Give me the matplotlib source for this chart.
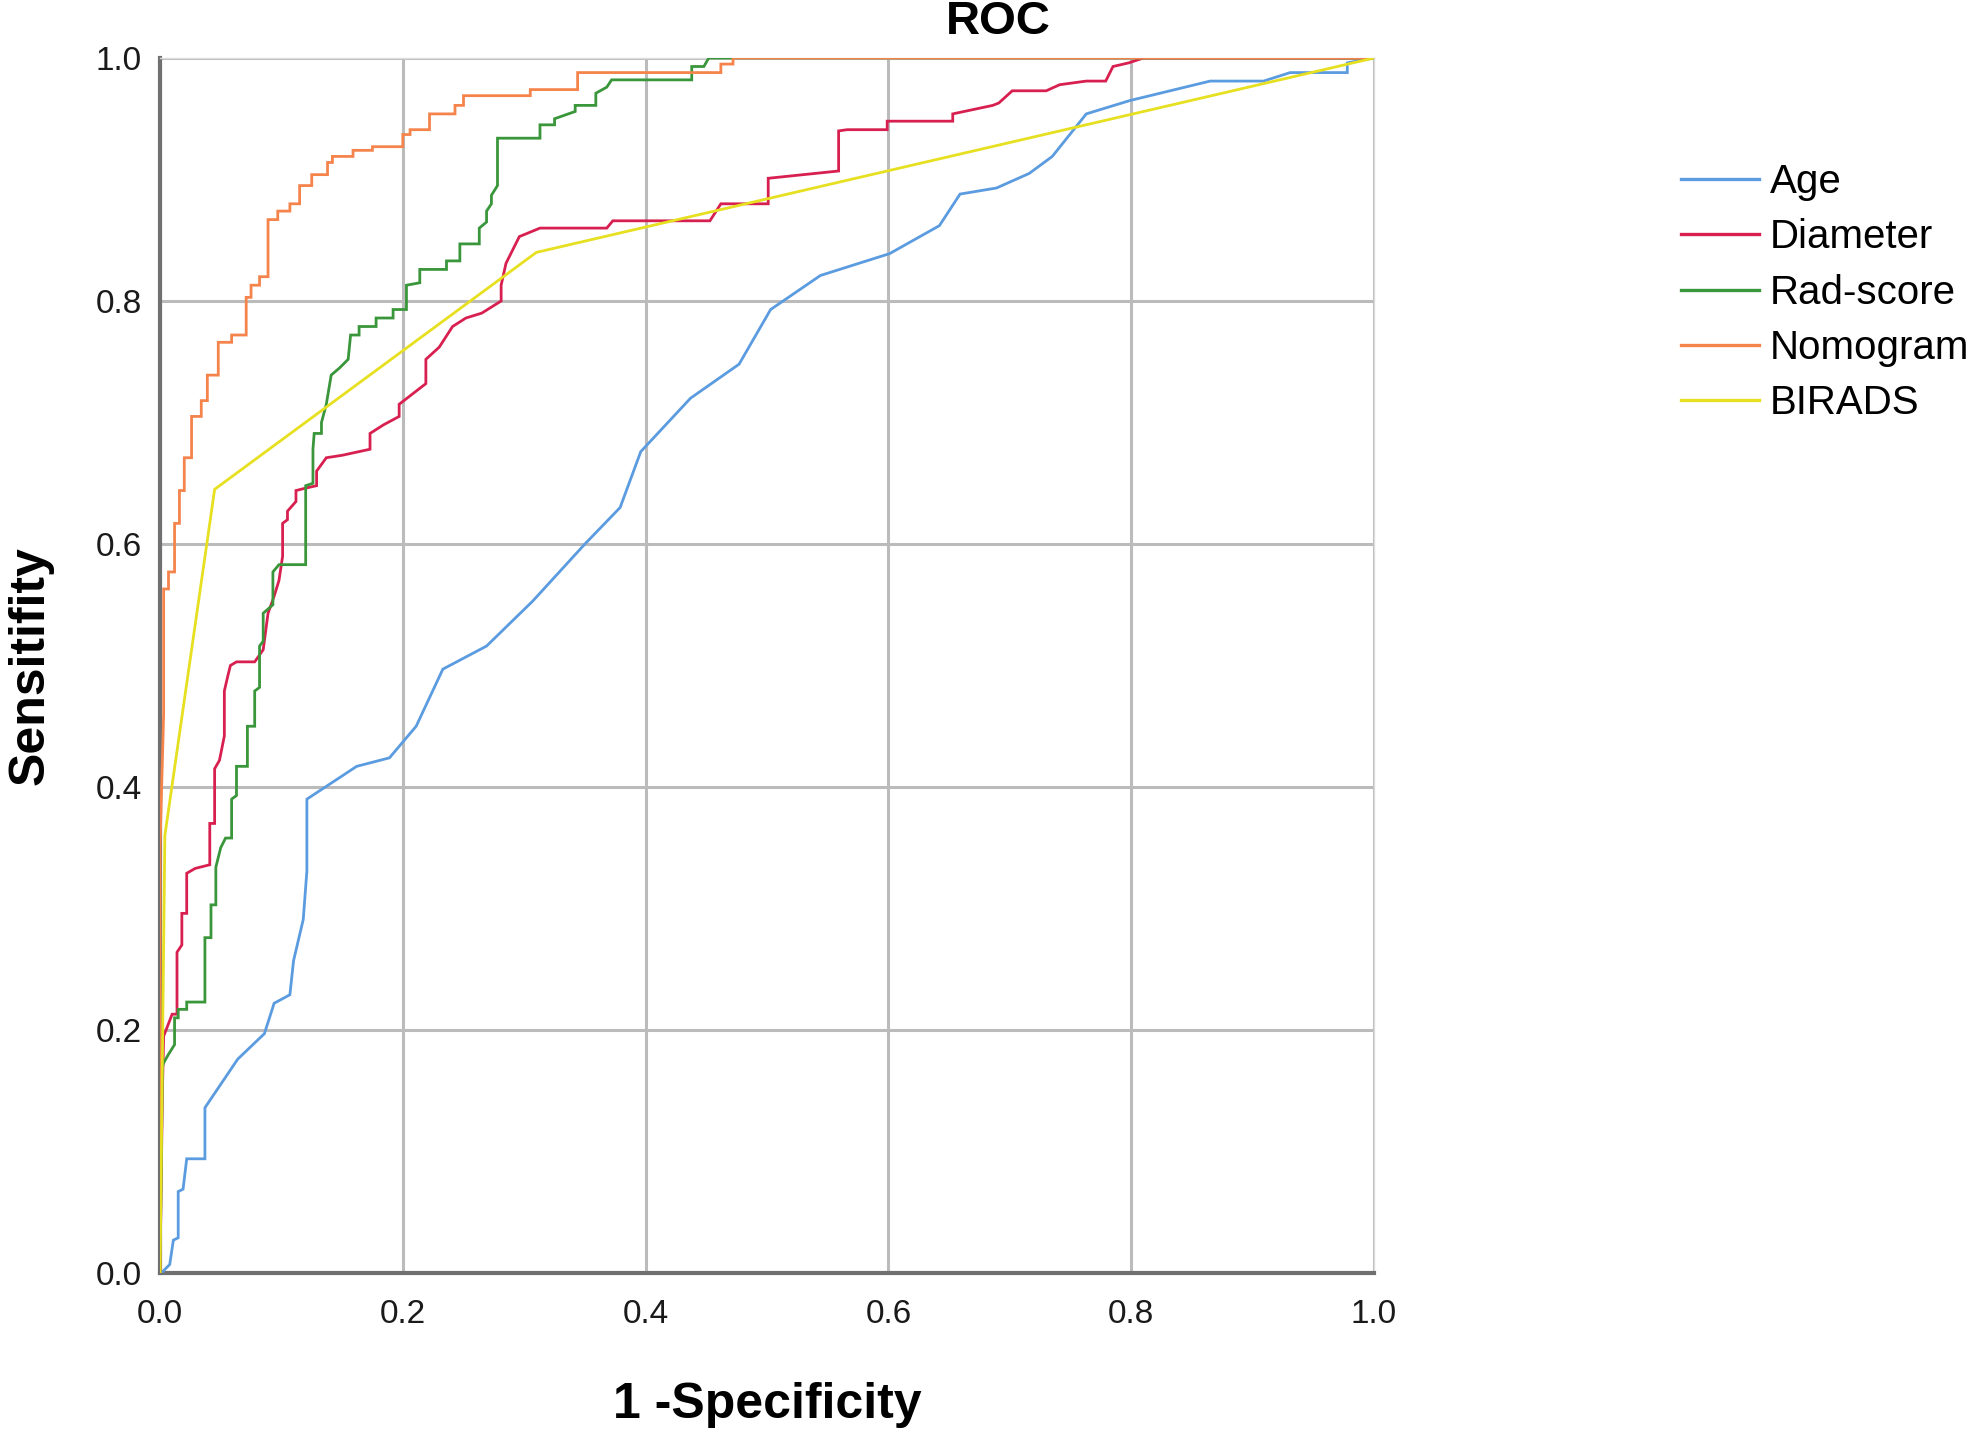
import matplotlib
matplotlib.use("Agg")
import matplotlib.pyplot as plt

plt.rcParams['font.family'] = ['Liberation Sans', 'DejaVu Sans']

# ---------------- data ----------------
series_names = ["Age", "Diameter", "Rad-score", "Nomogram", "BIRADS"]

age_fpr = [0, 0.001, 0.008, 0.011, 0.015, 0.015, 0.019, 0.022, 0.037, 0.037, 0.064,
           0.086, 0.094, 0.107, 0.110, 0.118, 0.121, 0.121, 0.162, 0.189, 0.211,
           0.233, 0.269, 0.307, 0.350, 0.379, 0.396, 0.437, 0.477, 0.503, 0.544,
           0.601, 0.642, 0.659, 0.689, 0.716, 0.735, 0.763, 0.799, 0.865, 0.909,
           0.931, 0.978, 0.978, 1.0]
age_tpr = [0, 0.0, 0.007, 0.027, 0.029, 0.067, 0.069, 0.094, 0.094, 0.136, 0.176,
           0.197, 0.222, 0.229, 0.257, 0.291, 0.331, 0.390, 0.417, 0.424, 0.450,
           0.497, 0.516, 0.553, 0.600, 0.630, 0.676, 0.720, 0.748, 0.793, 0.821,
           0.839, 0.862, 0.888, 0.893, 0.905, 0.919, 0.954, 0.965, 0.981, 0.981,
           0.988, 0.988, 0.996, 1.0]

diameter_fpr = [0, 0.002, 0.003, 0.005, 0.010, 0.014, 0.014, 0.018, 0.018, 0.022,
                0.022, 0.029, 0.041, 0.041, 0.045, 0.045, 0.049, 0.053, 0.053, 0.056,
                0.058, 0.063, 0.078, 0.085, 0.089, 0.094, 0.098, 0.101, 0.101, 0.105,
                0.105, 0.112, 0.112, 0.120, 0.129, 0.129, 0.137, 0.150, 0.173, 0.173,
                0.184, 0.197, 0.197, 0.219, 0.219, 0.230, 0.241, 0.252, 0.265, 0.281,
                0.281, 0.285, 0.296, 0.313, 0.368, 0.373, 0.453, 0.462, 0.501, 0.501,
                0.559, 0.559, 0.566, 0.599, 0.599, 0.653, 0.653, 0.686, 0.691, 0.702,
                0.730, 0.741, 0.763, 0.779, 0.785, 0.798, 0.810, 1.0]
diameter_tpr = [0, 0.150, 0.195, 0.200, 0.213, 0.213, 0.264, 0.270, 0.296, 0.296,
                0.329, 0.333, 0.336, 0.370, 0.370, 0.415, 0.422, 0.442, 0.479, 0.492,
                0.500, 0.503, 0.503, 0.513, 0.543, 0.557, 0.570, 0.590, 0.617, 0.620,
                0.627, 0.635, 0.644, 0.646, 0.648, 0.660, 0.671, 0.673, 0.678, 0.691,
                0.698, 0.705, 0.715, 0.732, 0.752, 0.762, 0.779, 0.786, 0.790, 0.800,
                0.813, 0.831, 0.853, 0.860, 0.860, 0.866, 0.866, 0.880, 0.880, 0.901,
                0.907, 0.940, 0.941, 0.941, 0.948, 0.948, 0.954, 0.961, 0.963, 0.973,
                0.973, 0.978, 0.981, 0.981, 0.993, 0.996, 1.0, 1.0]

radscore_fpr = [0, 0.002, 0.003, 0.007, 0.012, 0.012, 0.015, 0.015, 0.022, 0.022,
                0.037, 0.037, 0.042, 0.042, 0.046, 0.046, 0.050, 0.054, 0.059, 0.059,
                0.063, 0.063, 0.072, 0.072, 0.078, 0.078, 0.082, 0.082, 0.085, 0.085,
                0.093, 0.093, 0.098, 0.120, 0.120, 0.126, 0.126, 0.127, 0.133, 0.133,
                0.137, 0.141, 0.148, 0.155, 0.157, 0.164, 0.164, 0.178, 0.178, 0.192,
                0.192, 0.203, 0.203, 0.214, 0.214, 0.236, 0.236, 0.247, 0.247, 0.263,
                0.263, 0.269, 0.269, 0.273, 0.273, 0.278, 0.278, 0.313, 0.313, 0.325,
                0.325, 0.342, 0.342, 0.359, 0.359, 0.368, 0.372, 0.438, 0.438, 0.448,
                0.452, 1.0]
radscore_tpr = [0, 0.170, 0.173, 0.180, 0.188, 0.210, 0.210, 0.217, 0.217, 0.223,
                0.223, 0.276, 0.276, 0.303, 0.303, 0.334, 0.350, 0.358, 0.358, 0.390,
                0.393, 0.417, 0.417, 0.450, 0.450, 0.479, 0.482, 0.516, 0.520, 0.543,
                0.550, 0.577, 0.583, 0.583, 0.648, 0.650, 0.678, 0.691, 0.691, 0.700,
                0.715, 0.739, 0.745, 0.752, 0.772, 0.772, 0.779, 0.779, 0.786, 0.786,
                0.793, 0.793, 0.813, 0.815, 0.826, 0.826, 0.833, 0.833, 0.847, 0.847,
                0.860, 0.865, 0.874, 0.880, 0.887, 0.895, 0.934, 0.934, 0.945, 0.945,
                0.950, 0.956, 0.961, 0.961, 0.971, 0.976, 0.982, 0.982, 0.993, 0.993,
                1.0, 1.0]

nomogram_fpr = [0, 0, 0.003, 0.003, 0.007, 0.007, 0.012, 0.012, 0.016, 0.016,
                0.020, 0.020, 0.026, 0.026, 0.034, 0.034, 0.039, 0.039, 0.048, 0.048,
                0.059, 0.059, 0.071, 0.071, 0.075, 0.075, 0.082, 0.082, 0.089, 0.089,
                0.097, 0.097, 0.107, 0.107, 0.115, 0.115, 0.125, 0.125, 0.138, 0.138,
                0.142, 0.142, 0.159, 0.159, 0.175, 0.175, 0.200, 0.200, 0.206, 0.206,
                0.222, 0.222, 0.243, 0.243, 0.250, 0.250, 0.305, 0.305, 0.344, 0.344,
                0.462, 0.462, 0.472, 0.472, 1.0]
nomogram_tpr = [0, 0.350, 0.460, 0.563, 0.563, 0.577, 0.577, 0.617, 0.617, 0.644,
                0.644, 0.671, 0.671, 0.705, 0.705, 0.718, 0.718, 0.739, 0.739, 0.766,
                0.766, 0.772, 0.772, 0.803, 0.803, 0.813, 0.813, 0.820, 0.820, 0.867,
                0.867, 0.874, 0.874, 0.880, 0.880, 0.895, 0.895, 0.904, 0.904, 0.914,
                0.914, 0.919, 0.919, 0.924, 0.924, 0.927, 0.927, 0.937, 0.937, 0.941,
                0.941, 0.954, 0.954, 0.961, 0.961, 0.969, 0.969, 0.974, 0.974, 0.988,
                0.988, 0.995, 0.995, 1.0, 1.0]

birads_fpr = [0, 0.004, 0.045, 0.310, 1.0]
birads_tpr = [0, 0.360, 0.645, 0.840, 1.0]

series_fpr = [age_fpr, diameter_fpr, radscore_fpr, nomogram_fpr, birads_fpr]
series_tpr = [age_tpr, diameter_tpr, radscore_tpr, nomogram_tpr, birads_tpr]
series_colors = ["#5B9BDF", "#D82050", "#3A963A", "#F5844C", "#E6E020"]

ticks = [0.0, 0.2, 0.4, 0.6, 0.8, 1.0]
tick_labels = ["0.0", "0.2", "0.4", "0.6", "0.8", "1.0"]

# ---------------- figure ----------------
W, H = 1969, 1433
fig = plt.figure(figsize=(W / 100, H / 100), dpi=100)
ax = fig.add_axes([160 / W, 1 - 1273 / H, (1374 - 160) / W, (1273 - 58) / H])

for fx, ty, name, col in zip(series_fpr, series_tpr, series_names, series_colors):
    ax.plot(fx, ty, color=col, lw=2.0, label=name, solid_joinstyle='miter', zorder=3)

ax.set_xlim(0, 1)
ax.set_ylim(0, 1)
ax.set_xticks(ticks)
ax.set_yticks(ticks)
ax.set_xticklabels(tick_labels)
ax.set_yticklabels(tick_labels)
ax.tick_params(axis='both', length=0, labelsize=24, colors='#1a1a1a')
ax.tick_params(axis='x', pad=19)
ax.tick_params(axis='y', pad=13)

ax.grid(True, color='#BBBBBB', lw=2.2, zorder=1)
ax.set_axisbelow(True)

for side in ['top', 'right']:
    ax.spines[side].set_color('#DDDDDD')
    ax.spines[side].set_linewidth(1.0)
for side in ['left', 'bottom']:
    ax.spines[side].set_color('#707070')
    ax.spines[side].set_linewidth(3.0)

ax.set_xlabel("1 -Specificity", fontsize=36, fontweight='bold', labelpad=37)
ax.set_ylabel("Sensitifity", fontsize=36, fontweight='bold', labelpad=30)

fig.text(998 / W, 1 - 22 / H, "ROC", fontsize=34, fontweight='bold',
         ha='center', va='center')

leg = ax.legend(loc='upper left', bbox_to_anchor=(1681 / W, 1 - 163 / H),
                bbox_transform=fig.transFigure, frameon=False, fontsize=29,
                handlelength=1.93, handletextpad=0.27, labelspacing=0.43,
                borderpad=0, borderaxespad=0)
for line in leg.get_lines():
    line.set_linewidth(2.4)

fig.savefig("out.png", dpi=100)
